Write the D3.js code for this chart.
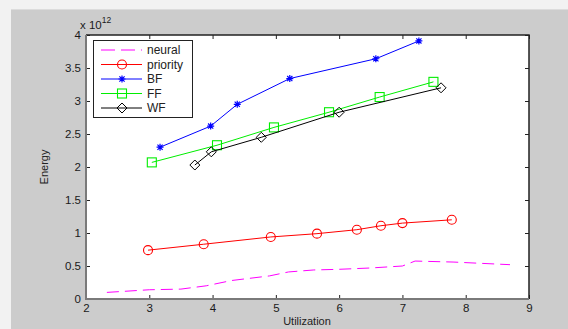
<!DOCTYPE html>
<html lang="en">
<head>
<meta charset="utf-8">
<title>Energy vs Utilization</title>
<script src="https://d3js.org/d3.v7.min.js"></script>
<style>
  body { margin: 0; background: #cccccc; }
  svg { display: block; font-family: "Liberation Sans", Arial, sans-serif; }
</style>
</head>
<body>
<div id="chart"></div>
<script>
// values (energy in units of 1e12)
const neuralX = [2.33, 3.0, 3.5, 3.9, 4.3, 4.9, 5.2, 5.6, 6.0, 6.5, 7.0, 7.2, 7.8, 8.7];
const neuralY = [0.10, 0.14, 0.15, 0.20, 0.28, 0.35, 0.41, 0.44, 0.45, 0.47, 0.50, 0.575, 0.56, 0.52];
const priorityX = [2.98, 3.86, 4.92, 5.65, 6.28, 6.66, 7.0, 7.78];
const priorityY = [0.74, 0.83, 0.94, 0.99, 1.05, 1.11, 1.15, 1.20];
const bfX = [3.17, 3.97, 4.39, 5.22, 6.58, 7.26];
const bfY = [2.30, 2.62, 2.95, 3.34, 3.64, 3.91];
const ffX = [3.04, 4.07, 4.97, 5.84, 6.64, 7.49];
const ffY = [2.07, 2.33, 2.60, 2.83, 3.06, 3.29];
const wfX = [3.72, 3.98, 4.77, 6.0, 7.61];
const wfY = [2.03, 2.23, 2.45, 2.83, 3.20];
const xTicks = [2, 3, 4, 5, 6, 7, 8, 9];
const yTicks = [0, 0.5, 1, 1.5, 2, 2.5, 3, 3.5, 4];

const series = [
  { name: "neural", xs: neuralX, ys: neuralY, color: "#ff00ff", marker: null, dash: "12,6" },
  { name: "priority", xs: priorityX, ys: priorityY, color: "#ff0000", marker: "circle" },
  { name: "BF", xs: bfX, ys: bfY, color: "#0000ff", marker: "star" },
  { name: "FF", xs: ffX, ys: ffY, color: "#00ee00", marker: "square" },
  { name: "WF", xs: wfX, ys: wfY, color: "#000000", marker: "diamond" }
];

const width = 568, height = 329;
const plot = { left: 86, right: 529, top: 35, bottom: 299 };

const x = d3.scaleLinear().domain([2, 9]).range([plot.left, plot.right]);
const y = d3.scaleLinear().domain([0, 4]).range([plot.bottom, plot.top]);

const svg = d3.select("#chart").append("svg")
    .attr("width", width).attr("height", height);

// window chrome
svg.append("rect").attr("width", width).attr("height", height).attr("fill", "#cccccc");
svg.append("rect").attr("width", width).attr("height", 9).attr("fill", "#f2f2f2");
svg.append("line").attr("x1", 0).attr("x2", width).attr("y1", 9.5).attr("y2", 9.5)
    .attr("stroke", "#dcdcdc").attr("stroke-width", 1);
svg.append("rect").attr("x", 0).attr("y", 9).attr("width", 11).attr("height", height - 9).attr("fill", "#f2f2f2");

// plot area
svg.append("rect")
    .attr("x", plot.left).attr("y", plot.top)
    .attr("width", plot.right - plot.left).attr("height", plot.bottom - plot.top)
    .attr("fill", "#ffffff");

// axes with inward ticks on all sides
const tickLen = 4;
const axisG = svg.append("g");
const ax = g => g.selectAll(".domain").remove();
axisG.append("g").attr("transform", `translate(0,${plot.bottom})`)
    .call(d3.axisBottom(x).tickValues(xTicks).tickSizeInner(-tickLen).tickSizeOuter(0).tickPadding(5).tickFormat(d3.format("d"))).call(ax);
axisG.append("g").attr("transform", `translate(0,${plot.top})`)
    .call(d3.axisTop(x).tickValues(xTicks).tickSizeInner(-tickLen).tickSizeOuter(0).tickFormat("")).call(ax);
axisG.append("g").attr("transform", `translate(${plot.left},0)`)
    .call(d3.axisLeft(y).tickValues(yTicks).tickSizeInner(-tickLen).tickSizeOuter(0).tickPadding(5).tickFormat(d3.format("~g"))).call(ax);
axisG.append("g").attr("transform", `translate(${plot.right},0)`)
    .call(d3.axisRight(y).tickValues(yTicks).tickSizeInner(-tickLen).tickSizeOuter(0).tickFormat("")).call(ax);
axisG.selectAll("text").attr("font-size", 11.5).attr("fill", "#1a1a1a").attr("font-family", "Liberation Sans, Arial, sans-serif");
axisG.selectAll(".tick line").attr("stroke", "#222");

// box
svg.append("path")
    .attr("d", `M${plot.left},${plot.top}H${plot.right}V${plot.bottom}`)
    .attr("fill", "none").attr("stroke", "#222").attr("stroke-width", 1.5);
svg.append("path")
    .attr("d", `M${plot.left},${plot.top}V${plot.bottom}H${plot.right}`)
    .attr("fill", "none").attr("stroke", "#7a7a7a").attr("stroke-width", 2);

// exponent
const expo = svg.append("text").attr("x", 80).attr("y", 29).attr("font-size", 11.5).attr("fill", "#1a1a1a");
expo.append("tspan").text("x 10");
expo.append("tspan").attr("dy", -6).attr("font-size", 8.5).text("12");

// axis titles
svg.append("text").attr("x", 307).attr("y", 325).attr("text-anchor", "middle")
    .attr("font-size", 11).attr("fill", "#222").text("Utilization");
svg.append("text").attr("transform", "translate(48,167) rotate(-90)").attr("text-anchor", "middle")
    .attr("font-size", 11).attr("fill", "#222").text("Energy");

// markers
const drawMarker = (g, type, color, cx, cy) => {
  if (type === "circle") {
    g.append("circle").attr("cx", cx).attr("cy", cy).attr("r", 4.5)
        .attr("fill", "none").attr("stroke", color).attr("stroke-width", 1.1);
  } else if (type === "square") {
    g.append("rect").attr("x", cx - 4.5).attr("y", cy - 4.5).attr("width", 9).attr("height", 9)
        .attr("fill", "none").attr("stroke", color).attr("stroke-width", 1.1);
  } else if (type === "diamond") {
    g.append("path").attr("d", `M${cx},${cy - 5}L${cx + 5},${cy}L${cx},${cy + 5}L${cx - 5},${cy}Z`)
        .attr("fill", "none").attr("stroke", color).attr("stroke-width", 1);
  } else if (type === "star") {
    const r = 3.5, d = 2.6;
    g.append("path")
        .attr("d", `M${cx - r},${cy}H${cx + r}M${cx},${cy - r}V${cy + r}M${cx - d},${cy - d}L${cx + d},${cy + d}M${cx - d},${cy + d}L${cx + d},${cy - d}`)
        .attr("stroke", color).attr("stroke-width", 1.2);
  }
};

const line = d3.line().x(d => x(d[0])).y(d => y(d[1]));
const dataG = svg.append("g");
series.forEach(s => {
  const pts = s.xs.map((v, i) => [v, s.ys[i]]);
  dataG.append("path").attr("d", line(pts))
      .attr("fill", "none").attr("stroke", s.color).attr("stroke-width", 1)
      .attr("stroke-dasharray", s.dash || null);
  if (s.marker) {
    const mg = dataG.append("g");
    pts.forEach(p => drawMarker(mg, s.marker, s.color, x(p[0]), y(p[1])));
  }
});

// legend
const leg = svg.append("g");
leg.append("rect").attr("x", 93.5).attr("y", 40.5).attr("width", 99).attr("height", 77)
    .attr("fill", "#ffffff").attr("stroke", "#222").attr("stroke-width", 1);
series.forEach((s, i) => {
  const ly = 50 + i * 14.5;
  leg.append("line").attr("x1", 101).attr("x2", 142).attr("y1", ly).attr("y2", ly)
      .attr("stroke", s.color).attr("stroke-width", 1).attr("stroke-dasharray", s.dash ? "14,6" : null);
  if (s.marker) drawMarker(leg, s.marker, s.color, 122, ly);
  leg.append("text").attr("x", 147).attr("y", ly).attr("dy", "0.35em")
      .attr("font-size", 12).attr("fill", "#222").text(s.name);
});
</script>
</body>
</html>
